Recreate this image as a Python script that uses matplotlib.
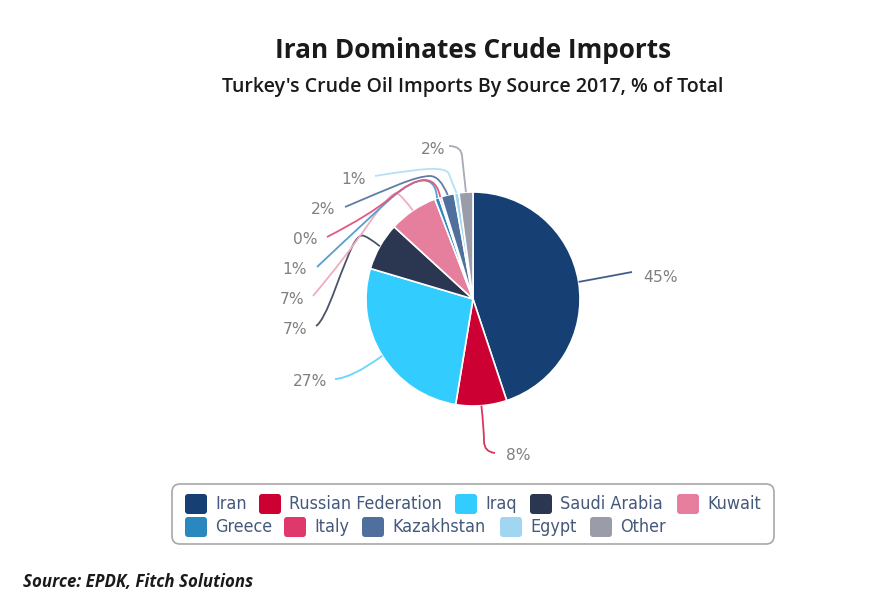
#!/usr/bin/python3

import numpy as np
import matplotlib
matplotlib.use('Agg')
import matplotlib.pyplot as plt
from matplotlib.patches import FancyBboxPatch, PathPatch
from matplotlib.path import Path

countries = ['Iran', 'Russian Federation', 'Iraq', 'Saudi Arabia', 'Kuwait',
             'Greece', 'Italy', 'Kazakhstan', 'Egypt', 'Other']
shares = [44.9, 7.7, 27.0, 7.2, 7.4, 0.7, 0.3, 2.0, 0.7, 2.1]
share_labels = ['45%', '8%', '27%', '7%', '7%', '1%', '0%', '2%', '1%', '2%']
colors = ['#163f73', '#cc0033', '#33ccff', '#2b3750', '#e67e9e',
          '#2a88bf', '#e0386a', '#4f709c', '#a0d6f2', '#9a9ca8']
line_colors = ['#3e5f8c', '#d6365f', '#66d6fb', '#4a5468', '#f0adc0',
               '#55a0cc', '#e05a82', '#5f7da5', '#b8e0f5', '#a8aab4']

W, H = 881, 614
cx, cy, radius = 473, 299, 107


def yy(py):
    return H - py


fig = plt.figure(figsize=(W/100, H/100), dpi=100)
ax = fig.add_axes([0, 0, 1, 1])

ax.pie(shares, colors=colors, startangle=90, counterclock=False,
       center=(cx, yy(cy)), radius=radius,
       wedgeprops={'edgecolor': 'white', 'linewidth': 1.2})
ax.set_xlim(0, W)
ax.set_ylim(0, H)
ax.set_aspect('equal')
ax.axis('off')

# label spot and the bends of each leader, in pixels from the top left
label_xy = [(661, 277), (518, 456), (310, 382), (295, 330), (292, 300),
            (295, 270), (305, 240), (323, 210), (354, 180), (433, 149)]
bends = [
    [(632, 272), (600, 278)],
    [(495, 453), (484, 452), (484, 430)],
    [(335, 379), (352, 378)],
    [(316, 326), (323, 322), (347, 257), (358, 235), (367, 236)],
    [(313, 296), (345, 258), (392, 190), (403, 197)],
    [(317, 267), (372, 215), (412, 180), (436, 181)],
    [(327, 237), (370, 215), (412, 180), (437, 180)],
    [(345, 207), (380, 192), (420, 176), (440, 176)],
    [(375, 176), (410, 170), (447, 168), (451, 180)],
    [(449, 146), (461, 146), (463, 165)],
]

# leaders end on the rim, at the middle of their slice
edges = np.cumsum([0] + shares) / sum(shares) * 2 * np.pi
for i in range(len(shares)):
    mid = (edges[i] + edges[i+1]) / 2
    end = (cx + radius*np.sin(mid), cy - radius*np.cos(mid))
    pts = bends[i] + [end]
    verts = [(pts[0][0], yy(pts[0][1]))]
    codes = [Path.MOVETO]
    # smooth curve through the bends, same style as the chart's connectors
    for j in range(1, len(pts) - 1):
        nxt = pts[j+1] if j == len(pts) - 2 else ((pts[j][0]+pts[j+1][0])/2, (pts[j][1]+pts[j+1][1])/2)
        verts += [(pts[j][0], yy(pts[j][1])), (nxt[0], yy(nxt[1]))]
        codes += [Path.CURVE3, Path.CURVE3]
    ax.add_patch(PathPatch(Path(verts, codes), fc='none', ec=line_colors[i], lw=1.3, zorder=3))

for (lx, ly), lab in zip(label_xy, share_labels):
    ax.text(lx, yy(ly), lab, fontsize=11.2, color='#808080', ha='center', va='center',
            family='DejaVu Sans')

ax.text(473, yy(51), 'Iran Dominates Crude Imports', fontsize=18.8, fontweight='bold',
        color='#1a1a1a', ha='center', va='center', family='Open Sans')
ax.text(473, yy(87), "Turkey's Crude Oil Imports By Source 2017, % of Total", fontsize=14,
        color='#1a1a1a', ha='center', va='center', family='Open Sans', fontweight='semibold')
ax.text(23, yy(582), 'Source: EPDK, Fitch Solutions', fontsize=12.2, style='italic',
        fontweight='bold', color='#1a1a1a', ha='left', va='center', family='Open Sans')

# legend box
ax.add_patch(FancyBboxPatch((175, yy(541)), 596, 54, boxstyle='round,pad=3,rounding_size=8',
                            fc='white', ec='#a8a8a8', lw=1.2))
swatch_x = [185, 259, 455, 530, 677, 185, 284, 362, 500, 590]
legend_y = [504, 504, 504, 504, 504, 527, 527, 527, 527, 527]
for name, col, lx, ly in zip(countries, colors, swatch_x, legend_y):
    ax.add_patch(FancyBboxPatch((lx+1, yy(ly+9)), 20, 18, boxstyle='round,pad=1,rounding_size=3',
                                fc=col, ec='none'))
    ax.text(lx+30, yy(ly), name, fontsize=12.9, color='#45597a', ha='left', va='center',
            family='DejaVu Sans', fontstretch='condensed')

fig.savefig('out.png', dpi=100)
